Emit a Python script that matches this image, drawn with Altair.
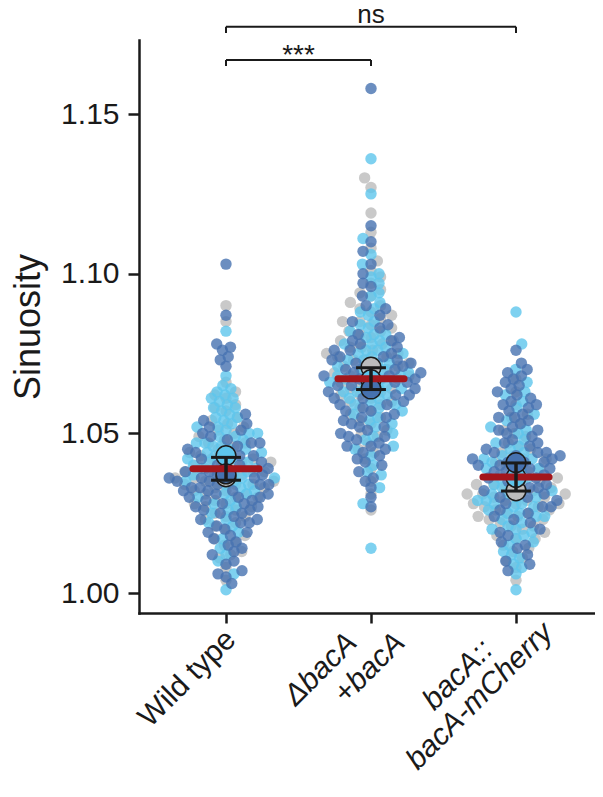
import numpy as np
import pandas as pd
import altair as alt

# ---------------- data ----------------
groups = ["Wild type", "ΔbacA +bacA", "bacA:: bacA-mCherry"]
label_lines = [["Wild type"], ["ΔbacA", "+bacA"], ["bacA::", "bacA-mCherry"]]
replicates = ["Replicate 1", "Replicate 2", "Replicate 3"]
rep_colors = ["#bcbcbc", "#5ec5ec", "#4672b0"]

wt_rep1 = [1.004, 1.008, 1.011, 1.013, 1.015, 1.017, 1.018, 1.020, 1.021, 1.022, 1.023, 1.024,
           1.025, 1.026, 1.027, 1.027, 1.028, 1.029, 1.030, 1.030, 1.031, 1.032, 1.032, 1.033,
           1.033, 1.034, 1.034, 1.035, 1.035, 1.036, 1.036, 1.037, 1.037, 1.038, 1.038, 1.039,
           1.039, 1.040, 1.040, 1.041, 1.042, 1.042, 1.043, 1.044, 1.045, 1.046, 1.047, 1.048,
           1.049, 1.050, 1.052, 1.053, 1.055, 1.057, 1.059, 1.061, 1.063, 1.066, 1.085, 1.090,
           1.016, 1.024, 1.028, 1.031, 1.034, 1.036, 1.038, 1.041, 1.043, 1.047, 1.051, 1.054,
           1.058, 1.062, 1.012]
wt_rep2 = [1.001, 1.006, 1.010, 1.014, 1.017, 1.019, 1.021, 1.023, 1.025, 1.026, 1.028, 1.029,
           1.030, 1.031, 1.032, 1.033, 1.034, 1.035, 1.035, 1.036, 1.037, 1.037, 1.038, 1.039,
           1.039, 1.040, 1.041, 1.041, 1.042, 1.042, 1.043, 1.044, 1.044, 1.045, 1.045, 1.046,
           1.047, 1.047, 1.048, 1.049, 1.050, 1.050, 1.051, 1.052, 1.053, 1.054, 1.055, 1.056,
           1.057, 1.058, 1.059, 1.060, 1.061, 1.062, 1.063, 1.064, 1.065, 1.068, 1.082,
           1.012, 1.022, 1.027, 1.031, 1.034, 1.036, 1.038, 1.040, 1.043, 1.046, 1.049, 1.052,
           1.055, 1.058, 1.061]
wt_rep3 = [1.003, 1.005, 1.007, 1.009, 1.010, 1.012, 1.013, 1.014, 1.016, 1.017, 1.018, 1.019,
           1.020, 1.021, 1.022, 1.022, 1.023, 1.024, 1.025, 1.025, 1.026, 1.027, 1.027, 1.028,
           1.029, 1.029, 1.030, 1.030, 1.031, 1.031, 1.032, 1.032, 1.033, 1.033, 1.034, 1.034,
           1.035, 1.035, 1.036, 1.036, 1.037, 1.038, 1.038, 1.039, 1.040, 1.041, 1.042, 1.043,
           1.044, 1.045, 1.046, 1.047, 1.048, 1.049, 1.050, 1.051, 1.052, 1.054, 1.056, 1.071,
           1.073, 1.074, 1.076, 1.077, 1.078, 1.087, 1.103,
           1.006, 1.015, 1.019, 1.023, 1.026, 1.028, 1.030, 1.032, 1.034, 1.036, 1.037, 1.040,
           1.043, 1.047, 1.053]

comp_rep1 = [1.026, 1.031, 1.035, 1.039, 1.042, 1.045, 1.047, 1.049, 1.051, 1.053, 1.055, 1.056,
             1.058, 1.059, 1.060, 1.061, 1.062, 1.063, 1.064, 1.065, 1.066, 1.067, 1.067, 1.068,
             1.069, 1.069, 1.070, 1.071, 1.071, 1.072, 1.073, 1.073, 1.074, 1.075, 1.075, 1.076,
             1.077, 1.078, 1.079, 1.080, 1.081, 1.082, 1.083, 1.084, 1.085, 1.086, 1.088, 1.089,
             1.091, 1.093, 1.095, 1.097, 1.101, 1.104, 1.108, 1.113, 1.119, 1.127, 1.130,
             1.044, 1.050, 1.054, 1.057, 1.060, 1.062, 1.064, 1.066, 1.068, 1.070, 1.072, 1.074,
             1.077, 1.079, 1.082, 1.085, 1.087, 1.090, 1.094, 1.099]
comp_rep2 = [1.014, 1.028, 1.033, 1.037, 1.040, 1.043, 1.046, 1.048, 1.050, 1.052, 1.054, 1.055,
             1.057, 1.058, 1.059, 1.060, 1.061, 1.062, 1.063, 1.064, 1.065, 1.066, 1.066, 1.067,
             1.068, 1.068, 1.069, 1.070, 1.070, 1.071, 1.072, 1.073, 1.074, 1.075, 1.076, 1.077,
             1.078, 1.079, 1.080, 1.082, 1.083, 1.085, 1.087, 1.089, 1.091, 1.094, 1.097, 1.099,
             1.100, 1.106, 1.111, 1.125, 1.136,
             1.038, 1.045, 1.049, 1.053, 1.056, 1.059, 1.061, 1.063, 1.065, 1.067, 1.069, 1.071,
             1.073, 1.076, 1.078, 1.081, 1.084, 1.088, 1.093, 1.103,
             1.064, 1.068, 1.072, 1.075, 1.081]
comp_rep3 = [1.027, 1.030, 1.033, 1.036, 1.038, 1.040, 1.042, 1.044, 1.045, 1.046, 1.047, 1.048,
             1.049, 1.050, 1.051, 1.052, 1.053, 1.054, 1.055, 1.056, 1.057, 1.058, 1.059, 1.060,
             1.061, 1.062, 1.063, 1.063, 1.064, 1.065, 1.066, 1.067, 1.067, 1.068, 1.069, 1.070,
             1.071, 1.072, 1.073, 1.074, 1.075, 1.076, 1.078, 1.079, 1.081, 1.083, 1.085, 1.087,
             1.090, 1.093, 1.096, 1.100, 1.103, 1.107, 1.110, 1.115, 1.158,
             1.035, 1.041, 1.043, 1.046, 1.049, 1.052, 1.055, 1.057, 1.059, 1.062, 1.065, 1.068,
             1.070, 1.072, 1.074, 1.077, 1.080, 1.084, 1.089, 1.097,
             1.061, 1.066, 1.069, 1.073, 1.076, 1.079]

mch_rep1 = [1.004, 1.008, 1.011, 1.013, 1.015, 1.017, 1.018, 1.019, 1.020, 1.021, 1.022, 1.023,
            1.024, 1.024, 1.025, 1.026, 1.026, 1.027, 1.027, 1.028, 1.028, 1.029, 1.029, 1.030,
            1.030, 1.031, 1.031, 1.032, 1.032, 1.033, 1.033, 1.034, 1.035, 1.035, 1.036, 1.037,
            1.038, 1.039, 1.040, 1.041, 1.042, 1.043, 1.044, 1.045, 1.047, 1.049, 1.051, 1.053,
            1.056, 1.059, 1.063, 1.067,
            1.010, 1.014, 1.017, 1.021, 1.023, 1.025, 1.028, 1.031, 1.034, 1.036, 1.039, 1.042,
            1.046, 1.050, 1.055]
mch_rep2 = [1.001, 1.006, 1.009, 1.011, 1.013, 1.015, 1.016, 1.018, 1.019, 1.020, 1.021, 1.022,
            1.023, 1.024, 1.025, 1.025, 1.026, 1.027, 1.028, 1.028, 1.029, 1.030, 1.030, 1.031,
            1.032, 1.032, 1.033, 1.034, 1.035, 1.036, 1.037, 1.038, 1.039, 1.040, 1.041, 1.042,
            1.043, 1.044, 1.045, 1.046, 1.048, 1.050, 1.052, 1.054, 1.056, 1.058, 1.060, 1.063,
            1.066, 1.070, 1.078, 1.088,
            1.008, 1.012, 1.017, 1.020, 1.024, 1.027, 1.029, 1.031, 1.033, 1.036, 1.039, 1.042,
            1.047, 1.051, 1.062]
mch_rep3 = [1.007, 1.010, 1.012, 1.014, 1.016, 1.018, 1.020, 1.022, 1.023, 1.025, 1.026, 1.027,
            1.028, 1.029, 1.030, 1.031, 1.032, 1.033, 1.034, 1.035, 1.036, 1.037, 1.038, 1.039,
            1.039, 1.040, 1.040, 1.041, 1.041, 1.042, 1.042, 1.043, 1.043, 1.044, 1.044, 1.045,
            1.046, 1.047, 1.048, 1.049, 1.050, 1.051, 1.052, 1.053, 1.054, 1.055, 1.056, 1.057,
            1.058, 1.059, 1.060, 1.061, 1.062, 1.063, 1.064, 1.065, 1.066, 1.067, 1.068, 1.069,
            1.070, 1.072, 1.076,
            1.009, 1.015, 1.019, 1.024, 1.027, 1.030, 1.033, 1.036, 1.038, 1.041, 1.044, 1.047,
            1.051, 1.055, 1.059]

# replicate means (large circles), per group, in replicate order
wt_means = [1.0364, 1.0430, 1.0373]
comp_means = [1.0707, 1.0668, 1.0639]
mch_means = [1.0320, 1.0362, 1.0408]

# significance comparisons: (group a, group b, label)
comparisons = [(0, 1, "***"), (0, 2, "ns")]

# ---------------- layout / style constants ----------------
W, H = 456, 573
Y_DOM = [0.99374, 1.17318]
X_DOM = [-0.6, -0.6 + W / 145.0]
PX_PER_Y = H / (Y_DOM[1] - Y_DOM[0])
PX_PER_X = 145.0
FONT = "Liberation Sans"
# swarm passes: (replicate indices swarmed together, spacing in px)
SWARM_PASSES = [([0], 11.5), ([1, 2], 8.6)]
# page-pixel offsets of each x-label line end from (tick, x-axis line)
LABEL_OFFSETS = [[(5, 22)], [(-19, 25), (29, 25)], [(-28, 32), (32, 15)]]

all_sets = [[wt_rep1, wt_rep2, wt_rep3],
            [comp_rep1, comp_rep2, comp_rep3],
            [mch_rep1, mch_rep2, mch_rep3]]
all_means = [wt_means, comp_means, mch_means]


def swarm(vals, ties, d):
    """Greedy beeswarm layout: horizontal pixel offsets for points sorted by value."""
    ypx = np.asarray(vals) * PX_PER_Y
    order = sorted(range(len(vals)), key=lambda i: (vals[i], ties[i]))
    placed = []
    xs = np.zeros(len(ypx))
    for k, i in enumerate(order):
        y = ypx[i]
        nb = [(py, px) for (py, px) in placed if abs(py - y) < d]
        cands = [0.0]
        for py, px in nb:
            dx = np.sqrt(max(d * d - (py - y) ** 2, 0.0))
            cands += [px + dx, px - dx]
        sgn = 1 if k % 2 == 0 else -1
        cands.sort(key=lambda c: (round(abs(c), 6), sgn * c))
        for c in cands:
            if all((c - px) ** 2 + (y - py) ** 2 >= d * d - 1e-6 for py, px in nb):
                xs[i] = c
                break
        placed.append((y, xs[i]))
    return xs


rows = []
for gi, sets in enumerate(all_sets):
    for reps, d in SWARM_PASSES:
        vals, rr, ties = [], [], []
        for ri in reps:
            vals += sets[ri]
            rr += [ri] * len(sets[ri])
            ties += [(j + ri) % 2 for j in range(len(sets[ri]))]
        offs = swarm(vals, ties, d)
        for v, r, o in zip(vals, rr, offs):
            rows.append({"g": gi, "rep": replicates[r], "ri": r, "value": v,
                         "xp": gi + o / PX_PER_X})
points = pd.DataFrame(rows)

mean_rows = []
for gi, ms in enumerate(all_means):
    for ri, m in enumerate(ms):
        mean_rows.append({"g": gi, "rep": replicates[ri], "ri": ri, "value": m})
means = pd.DataFrame(mean_rows)

br_rows = []
levels = [1.1669, 1.1773]
for k, (a, b, lab) in enumerate(comparisons):
    br_rows.append({"a": a, "b": b, "mid": (a + b) / 2, "y": levels[k],
                    "ylo": levels[k] - 0.0019, "label": lab})
brackets = pd.DataFrame(br_rows)

# ---------------- chart ----------------
xscale = alt.Scale(domain=X_DOM, nice=False, zero=False)
yscale = alt.Scale(domain=Y_DOM, nice=False, zero=False)
color_scale = alt.Scale(domain=replicates, range=rep_colors)

xaxis = alt.Axis(values=[0, 1, 2], title=None, labels=False, tickSize=10, grid=False)
yaxis = alt.Axis(values=[1.00, 1.05, 1.10, 1.15], format=".2f", title="Sinuosity",
                 labelFontSize=30, titleFontSize=36, titleFontWeight="normal",
                 tickSize=11, labelPadding=9, titlePadding=13, grid=False)

base_pts = alt.Chart(points).mark_circle(size=130, opacity=0.8).encode(
    x=alt.X("xp:Q", scale=xscale, axis=xaxis),
    y=alt.Y("value:Q", scale=yscale, axis=yaxis),
    color=alt.Color("rep:N", scale=color_scale, legend=None),
    order=alt.Order("ri:Q"),
)

mean_pts = alt.Chart(means).mark_circle(size=390, opacity=1, stroke="#1a1a1a", strokeWidth=1.5).encode(
    x=alt.X("g:Q", scale=xscale),
    y=alt.Y("value:Q", scale=yscale),
    color=alt.Color("rep:N", scale=color_scale, legend=None),
    order=alt.Order("ri:Q"),
)

agg = alt.Chart(means).transform_aggregate(
    m="mean(value)", sd="stdev(value)", groupby=["g"]
).transform_calculate(
    lo="datum.m - datum.sd", hi="datum.m + datum.sd",
    xl="datum.g - 0.228", xr="datum.g + 0.228",
    cl="datum.g - 0.103", cr="datum.g + 0.103",
)

red_line = agg.mark_rule(color="#a3161c", strokeWidth=7, strokeCap="round").encode(
    x=alt.X("xl:Q", scale=xscale), x2="xr:Q", y=alt.Y("m:Q", scale=yscale))
err_v = agg.mark_rule(color="#1a1a1a", strokeWidth=3.5).encode(
    x=alt.X("g:Q", scale=xscale), y=alt.Y("lo:Q", scale=yscale), y2="hi:Q")
cap_lo = agg.mark_rule(color="#1a1a1a", strokeWidth=3).encode(
    x=alt.X("cl:Q", scale=xscale), x2="cr:Q", y=alt.Y("lo:Q", scale=yscale))
cap_hi = agg.mark_rule(color="#1a1a1a", strokeWidth=3).encode(
    x=alt.X("cl:Q", scale=xscale), x2="cr:Q", y=alt.Y("hi:Q", scale=yscale))

br = alt.Chart(brackets)
br_h = br.mark_rule(color="#1a1a1a", strokeWidth=2, clip=False).encode(
    x=alt.X("a:Q", scale=xscale), x2="b:Q", y=alt.Y("y:Q", scale=yscale))
br_l = br.mark_rule(color="#1a1a1a", strokeWidth=2, clip=False).encode(
    x=alt.X("a:Q", scale=xscale), y=alt.Y("y:Q", scale=yscale), y2="ylo:Q")
br_r = br.mark_rule(color="#1a1a1a", strokeWidth=2, clip=False).encode(
    x=alt.X("b:Q", scale=xscale), y=alt.Y("y:Q", scale=yscale), y2="ylo:Q")
br_star = alt.Chart(brackets[brackets["label"] == "***"]).mark_text(
    font=FONT, fontSize=28, baseline="alphabetic", dy=4, color="#1a1a1a", clip=False).encode(
    x=alt.X("mid:Q", scale=xscale), y=alt.Y("y:Q", scale=yscale), text="label:N")
br_ns = alt.Chart(brackets[brackets["label"] != "***"]).mark_text(
    font=FONT, fontSize=26, baseline="alphabetic", dy=-4, color="#1a1a1a", clip=False).encode(
    x=alt.X("mid:Q", scale=xscale), y=alt.Y("y:Q", scale=yscale), text="label:N")

# category labels, one text line each, rotated like the reference
label_layers = []
for gi, lines in enumerate(label_lines):
    for li, txt in enumerate(lines):
        ox, oy = LABEL_OFFSETS[gi][li]
        ldf = pd.DataFrame({"g": [gi], "txt": [txt]})
        label_layers.append(
            alt.Chart(ldf).mark_text(
                font=FONT, fontSize=30, angle=315, align="right", baseline="middle",
                fontStyle="normal" if gi == 0 else "italic", color="#1a1a1a",
                dx=0.7071 * (ox - oy), dy=0.7071 * (ox + oy), clip=False,
            ).encode(x=alt.X("g:Q", scale=xscale), y=alt.YDatum(Y_DOM[0]), text="txt:N")
        )

chart = alt.layer(
    base_pts, mean_pts, red_line, err_v, cap_lo, cap_hi, br_h, br_l, br_r, br_star, br_ns,
    *label_layers
).properties(
    width=W, height=H,
    autosize=alt.AutoSizeParams(type="none"),
    padding={"left": 131, "top": 32, "right": 0, "bottom": 180},
).configure_view(stroke=None).configure_axis(
    labelFont=FONT, titleFont=FONT, labelColor="#1a1a1a", titleColor="#1a1a1a",
    domainColor="#1a1a1a", tickColor="#1a1a1a", domainWidth=2.5, tickWidth=2.5,
    domainCap="square",
)

chart.save("out.html", embed_options={"renderer": "svg", "actions": False})
